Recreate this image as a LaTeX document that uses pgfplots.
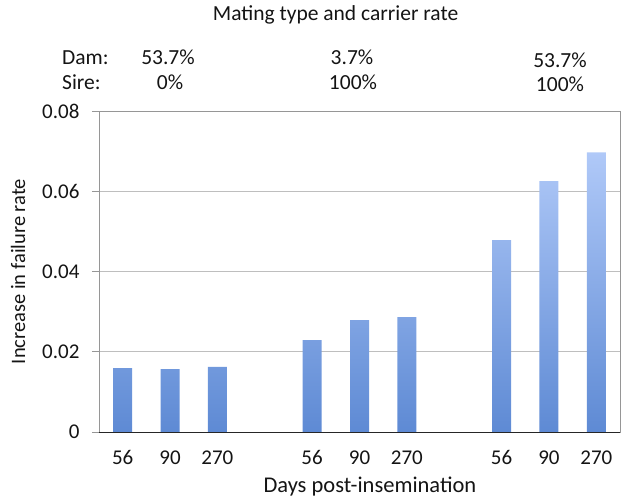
\documentclass[border=0pt]{standalone}
\usepackage{fontspec}
\setmainfont{Carlito}
\usepackage{pgfplots}
\pgfplotsset{compat=1.18}

\definecolor{bartop}{RGB}{176,201,248}
\definecolor{barbot}{RGB}{94,138,212}
\definecolor{gridgray}{RGB}{190,190,190}
\definecolor{framegray}{RGB}{150,150,150}
\definecolor{txt}{RGB}{20,20,20}

\newcommand{\lbl}{\fontsize{21.5}{24}\selectfont}

\begin{document}
\begin{tikzpicture}[x=1pt,y=1pt]
\useasboundingbox (0,0) rectangle (622,499);
\begin{axis}[
    at={(99pt,67pt)}, anchor=south west,
    scale only axis, width=521pt, height=321pt,
    xmin=-0.5, xmax=10.5, ymin=0, ymax=0.08,
    scaled y ticks=false,
    xtick={0,1,2,4,5,6,8,9,10},
    xticklabels={56,90,270,56,90,270,56,90,270},
    ytick={0,0.02,0.04,0.06,0.08},
    yticklabels={0,0.02,0.04,0.06,0.08},
    ytick pos=left, tick align=outside, major tick length=7pt,
    xtick style={draw=none},
    ytick style={draw=framegray, line width=0.8pt},
    ymajorgrids, grid style={draw=gridgray, line width=0.9pt},
    axis line style={draw=framegray, line width=0.9pt},
    ticklabel style={font=\fontsize{21}{24}\selectfont, text=txt},
    xticklabel style={yshift=-8pt},
    yticklabel style={xshift=-9pt},
    label style={text=txt},
    title={Mating type and carrier rate},
    title style={font=\lbl, text=txt, at={(rel axis cs:0.454,1.2617)}, anchor=base},
    xlabel={Days post-insemination},
    xlabel style={font=\fontsize{22.5}{24}\selectfont, at={(rel axis cs:0.52,-0.19)}, anchor=base},
    ylabel={Increase in failure rate},
    ylabel style={font=\fontsize{20.5}{24}\selectfont, at={(rel axis cs:-0.142,0.5)}, anchor=base},
    clip=false,
]
\addplot[ybar, bar width=19pt, draw=none, top color=bartop, bottom color=barbot]
    coordinates {
        (0,0.0159)(1,0.0157)(2,0.0162)
        (4,0.0229)(5,0.0279)(6,0.0286)
        (8,0.0478)(9,0.0625)(10,0.0697)
    };
\draw[black!85, line width=1pt] (rel axis cs:0,0) -- (rel axis cs:1,0);
\end{axis}
\begin{scope}[every node/.style={font=\lbl, text=txt, inner sep=0pt}]
\node[anchor=base west] at (62,434) {Dam:};
\node[anchor=base west] at (62,409) {Sire:};
\node[anchor=base] at (168,434) {53.7\%};
\node[anchor=base] at (170,409) {0\%};
\node[anchor=base] at (352,434) {3.7\%};
\node[anchor=base] at (353,409) {100\%};
\node[anchor=base] at (560,431) {53.7\%};
\node[anchor=base] at (560,407) {100\%};
\end{scope}
\end{tikzpicture}
\end{document}
